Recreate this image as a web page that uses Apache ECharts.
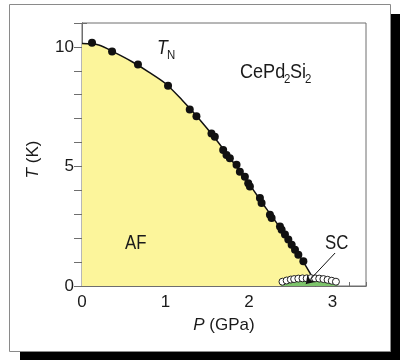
<!DOCTYPE html>
<html>
<head>
<meta charset="utf-8">
<script src="https://cdn.jsdelivr.net/npm/echarts@6/dist/echarts.min.js"></script>
<style>
  html, body { margin: 0; padding: 0; background: #fff; }
  #main { width: 400px; height: 360px; }
</style>
</head>
<body>
<div id="main"></div>
<script>
var FONT = '"Liberation Sans", Arial, sans-serif';

// T_N data points (filled circles)
var tnP = [0.12, 0.36, 0.67, 1.03, 1.29, 1.37, 1.55, 1.59, 1.69, 1.73, 1.77, 1.85, 1.89, 1.95,
           1.99, 2.01, 2.13, 2.15, 2.25, 2.27, 2.37, 2.39, 2.43, 2.47, 2.51, 2.55, 2.59, 2.65];
var tnT = [10.17, 9.81, 9.26, 8.38, 7.38, 7.10, 6.38, 6.24, 5.69, 5.48, 5.34, 5.07, 4.78, 4.57,
           4.30, 4.16, 3.68, 3.47, 2.98, 2.84, 2.49, 2.35, 2.15, 1.94, 1.73, 1.52, 1.31, 1.03];

// T_N(P) phase line bounding the AF region
var lineP = [0, 0.2, 0.4, 0.6, 0.8, 1.0, 1.2, 1.4, 1.6, 1.8, 2.0, 2.2, 2.4, 2.6, 2.76, 2.8];
var lineT = [10.14, 10.08, 9.75, 9.38, 8.95, 8.47, 7.77, 7.0, 6.15, 5.22, 4.27, 3.27, 2.3, 1.28, 0.35, 0];

// superconducting Tc points (open circles)
var scP = [2.40, 2.45, 2.50, 2.54, 2.59, 2.64, 2.69, 2.74, 2.79, 2.84, 2.89, 2.94, 2.99, 3.04];
var scT = [0.18, 0.23, 0.27, 0.29, 0.31, 0.32, 0.32, 0.33, 0.32, 0.31, 0.29, 0.26, 0.22, 0.18];

// SC dome outline
var domeP = [2.38, 2.45, 2.55, 2.7, 2.85, 2.97, 3.06];
var domeT = [0, 0.2, 0.3, 0.34, 0.32, 0.22, 0];

// arrow from the SC label into the dome
var arrowP = [3.03, 2.68];
var arrowT = [1.38, 0.08];

function pairs(xs, ys) {
  return xs.map(function (x, i) { return [x, ys[i]]; });
}

function label(text, x, y, size, sx, italic) {
  return {
    type: 'text', z: 10, x: x, y: y, scaleX: sx,
    style: { text: text, font: (italic ? 'italic ' : '') + size + 'px ' + FONT, fill: '#1a1a1a' }
  };
}

var myChart = echarts.init(document.getElementById('main'));

var axisColor = '#6e6e6e';

var option = {
  animation: false,
  textStyle: { fontFamily: FONT, color: '#1a1a1a' },
  graphic: [
    // drop shadow + frame
    { type: 'rect', z: -10, shape: { x: 20, y: 14, width: 380, height: 346 }, style: { fill: '#000' } },
    { type: 'rect', z: -9, shape: { x: 9.5, y: 4.5, width: 381, height: 347 }, style: { fill: '#fff', stroke: '#8a8a8a', lineWidth: 1 } },
    label('T', 157, 38, 20, 0.88, true),
    label('N', 167, 49, 13, 0.88, false),
    label('CePd', 240, 62, 21, 0.86, false),
    label('2', 284, 73, 13, 0.88, false),
    label('Si', 290, 62, 21, 0.86, false),
    label('2', 305, 73, 13, 0.88, false),
    label('AF', 125, 233, 21, 0.8, false),
    label('SC', 325, 233, 21, 0.8, false)
  ],
  grid: {
    left: 82, right: 34, top: 23, bottom: 74,
    show: true, borderColor: axisColor, borderWidth: 1, backgroundColor: 'transparent'
  },
  xAxis: [
    {
      type: 'value', min: 0, max: 3.4, interval: 0.2, position: 'bottom',
      axisLine: { lineStyle: { color: axisColor } },
      axisTick: { inside: true, length: 4, lineStyle: { color: axisColor } },
      axisLabel: { show: false },
      splitLine: { show: false }
    },
    {
      type: 'value', min: 0, max: 3.4, interval: 1, position: 'bottom',
      name: '{i|P} (GPa)', nameLocation: 'middle', nameGap: 31,
      nameTextStyle: { fontSize: 17, color: '#1a1a1a', rich: { i: { fontStyle: 'italic', fontSize: 17 } } },
      axisLine: { lineStyle: { color: axisColor } },
      axisTick: { inside: true, length: 7, lineStyle: { color: axisColor } },
      axisLabel: { fontSize: 17, color: '#1a1a1a', margin: 8, showMaxLabel: false },
      splitLine: { show: false }
    }
  ],
  yAxis: [
    {
      type: 'value', min: 0, max: 11, interval: 1, position: 'left',
      name: '{i|T} (K)', nameLocation: 'middle', nameGap: 40, nameRotate: 90,
      nameTextStyle: { fontSize: 17, color: '#1a1a1a', padding: [0, 10, 0, 0], rich: { i: { fontStyle: 'italic', fontSize: 17 } } },
      axisLine: { show: true, lineStyle: { color: axisColor } },
      axisTick: { inside: true, length: 5, lineStyle: { color: axisColor } },
      axisLabel: {
        fontSize: 17, color: '#1a1a1a', margin: 8,
        formatter: function (v) { return v % 5 === 0 ? String(v) : ''; }
      },
      splitLine: { show: false }
    },
    {
      type: 'value', min: 0, max: 11, interval: 1, position: 'right',
      axisLine: { show: true, lineStyle: { color: axisColor } },
      axisTick: { inside: true, length: 8, lineStyle: { color: axisColor } },
      axisLabel: { show: false },
      splitLine: { show: false }
    }
  ],
  series: [
    {
      name: 'AF', type: 'line', xAxisIndex: 1, yAxisIndex: 0,
      data: pairs(lineP, lineT), smooth: 0.3,
      showSymbol: false, symbol: 'none',
      lineStyle: { color: '#111', width: 1.5 },
      areaStyle: { color: '#fcf59b', opacity: 1 },
      z: 2
    },
    {
      name: 'SC dome', type: 'line', xAxisIndex: 1, yAxisIndex: 0,
      data: pairs(domeP, domeT), smooth: 0.5, symbol: 'none',
      lineStyle: { color: '#4f9a40', width: 1 },
      areaStyle: { color: '#7dc46b', opacity: 1 },
      z: 3
    },
    {
      name: 'T_N', type: 'scatter', xAxisIndex: 1, yAxisIndex: 0,
      data: pairs(tnP, tnT), symbol: 'circle', symbolSize: 8,
      itemStyle: { color: '#111', opacity: 1 },
      z: 4
    },
    {
      name: 'Tc', type: 'scatter', xAxisIndex: 1, yAxisIndex: 0,
      data: pairs(scP, scT), symbol: 'circle', symbolSize: 7,
      itemStyle: { color: '#fff', borderColor: '#222', borderWidth: 1, opacity: 1 },
      z: 5
    },
    {
      name: 'arrow', type: 'lines', coordinateSystem: 'cartesian2d',
      xAxisIndex: 1, yAxisIndex: 0, z: 6,
      symbol: ['none', 'arrow'], symbolSize: 8,
      lineStyle: { color: '#111', width: 1, opacity: 1 },
      data: [{ coords: pairs(arrowP, arrowT) }]
    }
  ]
};

option && myChart.setOption(option);
</script>
</body>
</html>
